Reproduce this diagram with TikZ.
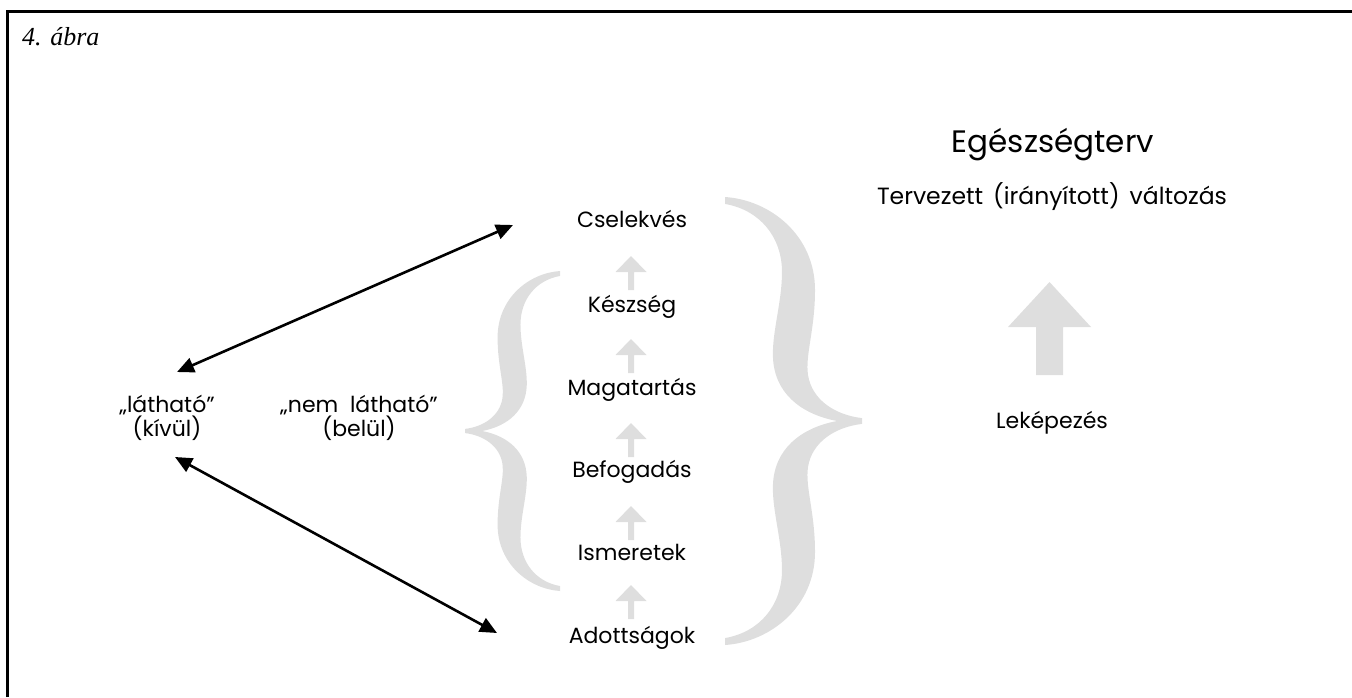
\documentclass[tikz,border=0pt]{standalone}
\usepackage{fontspec}
\setmainfont{Poppins}
\newfontfamily\serifit{Liberation Serif}
\usetikzlibrary{arrows.meta,calc}

\definecolor{pale}{RGB}{222,222,222}

\tikzset{
  label/.style={inner sep=0pt, anchor=base, font=\fontsize{22}{20}\selectfont},
  twoline/.style={inner sep=0pt, align=center, anchor=center, font=\fontsize{22}{20}\selectfont},
  title/.style={inner sep=0pt, anchor=base, font=\fontsize{31}{31}\selectfont},
  link/.style={line width=2.6pt, {Triangle[length=17pt,width=15pt]}-{Triangle[length=17pt,width=15pt]}},
  frameline/.style={line width=3pt},
  brace/.pic={
    \fill[pale] (0,-1)
      .. controls (0.328,-0.987) and (0.657,-0.830) .. (0.657,-0.585)
      .. controls (0.657,-0.406) and (0.584,-0.295) .. (0.606,-0.205)
      .. controls (0.635,-0.094) and (0.803,-0.027) .. (1,-0.013)
      -- (1,0.013)
      .. controls (0.803,0.027) and (0.635,0.094) .. (0.606,0.205)
      .. controls (0.584,0.295) and (0.657,0.406) .. (0.657,0.585)
      .. controls (0.657,0.830) and (0.328,0.987) .. (0,1)
      -- (0,0.969)
      .. controls (0.255,0.942) and (0.416,0.821) .. (0.416,0.665)
      .. controls (0.416,0.531) and (0.343,0.397) .. (0.350,0.286)
      .. controls (0.358,0.129) and (0.547,0.031) .. (0.818,0)
      .. controls (0.547,-0.031) and (0.358,-0.129) .. (0.350,-0.286)
      .. controls (0.343,-0.397) and (0.416,-0.531) .. (0.416,-0.665)
      .. controls (0.416,-0.821) and (0.255,-0.942) .. (0,-0.969)
      -- cycle;
  }
}

\begin{document}
\begin{tikzpicture}[x=1pt,y=-1pt]
\useasboundingbox (0,0) rectangle (1352,697);

% open frame: top and left edges only
\draw[frameline] (7.5,697) -- (7.5,11.5) -- (1352,11.5);
\node[inner sep=0pt, anchor=base west, font=\serifit\itshape\fontsize{26}{26}\selectfont] (fig) at (22,45) {4. ábra};

% grey braces
\pic[xscale=137, yscale=224] at (725,421) {brace};
\pic[xscale=-95, yscale=160] at (560,431) {brace};

% steps of the ladder
\node[label] (csel) at (632,227) {Cselekvés};
\node[label] (kesz) at (632,312) {Készség};
\node[label] (maga) at (632,395) {Magatartás};
\node[label] (befo) at (632,477) {Befogadás};
\node[label] (isme) at (632,560) {Ismeretek};
\node[label] (adot) at (632,643) {Adottságok};

% small grey arrows between the steps
\foreach \t in {256,339,423,506,585}{
  \fill[pale] (631,\t) -- (646.5,\t+16) -- (634,\t+16) -- (634,\t+34)
    -- (628,\t+34) -- (628,\t+16) -- (615.5,\t+16) -- cycle;
}

% left labels
\node[twoline] (vis) at (167,418) {„látható”\\(kívül)};
\node[twoline] (invis) at (359,418) {„nem\ \ látható”\\(belül)};

% right side
\node[title] (plan) at (1053,152) {Egészségterv};
\node[label, font=\fontsize{23.5}{24}\selectfont] (change) at (1052,204)
  {Tervezett\hspace{10pt}(irányított)\hspace{10pt}változás};
\node[label] (map) at (1052,428) {Leképezés};
\fill[pale] (1049.5,282) -- (1091,327) -- (1063,327) -- (1063,375)
  -- (1036,375) -- (1036,327) -- (1008,327) -- cycle;

% black double arrows
\coordinate (visTop) at (177,372);
\coordinate (visBot) at (175,457);
\coordinate (cselEnd) at (513,225);
\coordinate (adotEnd) at (497,633);
\draw[link] (visTop) -- (cselEnd);
\draw[link] (visBot) -- (adotEnd);
\end{tikzpicture}
\end{document}
